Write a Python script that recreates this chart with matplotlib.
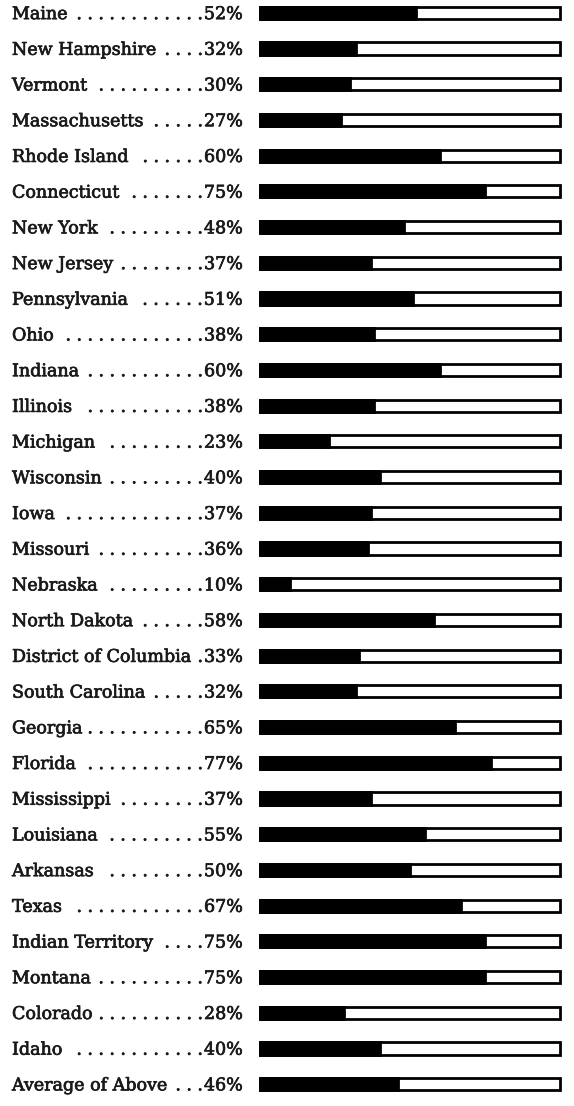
import matplotlib
matplotlib.use("Agg")
import matplotlib.pyplot as plt
import matplotlib.patheffects as pe
from matplotlib.transforms import blended_transform_factory, offset_copy

states = [
    "Maine", "New Hampshire", "Vermont", "Massachusetts", "Rhode Island",
    "Connecticut", "New York", "New Jersey", "Pennsylvania", "Ohio",
    "Indiana", "Illinois", "Michigan", "Wisconsin", "Iowa", "Missouri",
    "Nebraska", "North Dakota", "District of Columbia", "South Carolina",
    "Georgia", "Florida", "Mississippi", "Louisiana", "Arkansas", "Texas",
    "Indian Territory", "Montana", "Colorado", "Idaho", "Average of Above",
]
percents = [
    52, 32, 30, 27, 60, 75, 48, 37, 51, 38, 60, 38, 23, 40, 37, 36,
    10, 58, 33, 32, 65, 77, 37, 55, 50, 67, 75, 75, 28, 40, 46,
]

W, H, DPI = 574, 1106, 100
fig = plt.figure(figsize=(W / DPI, H / DPI), dpi=DPI)
fig.patch.set_facecolor("white")

n = len(states)
top_px, bottom_px = -5, 1102
ax = fig.add_axes([260 / W, 1 - bottom_px / H, 300 / W, (bottom_px - top_px) / H])
ax.set_xlim(0, 100)
ax.set_ylim(n - 0.5, -0.5)
ax.axis("off")

ys = list(range(n))
bar_h = 0.34
# white outlined full-length bar, then black filled share
ax.barh(ys, [100] * n, height=bar_h, color="white", edgecolor="black",
        linewidth=2.0, zorder=1, clip_on=False)
ax.barh(ys, percents, height=bar_h, color="black", edgecolor="black",
        linewidth=2.0, zorder=2, clip_on=False)

ink = [pe.withStroke(linewidth=0.5, foreground="#1a1a1a")]
font = dict(family="DejaVu Serif", fontsize=12.6, color="#1a1a1a",
            path_effects=ink)
base = blended_transform_factory(fig.transFigure, ax.transData)
# shift baseline so the capitals sit centred on each bar
trans = offset_copy(base, fig=fig, x=0, y=-4.5, units="points")
name_x = 12 / W
pct_x = 243 / W

fig.canvas.draw()
renderer = fig.canvas.get_renderer()

dot_step = 11  # pixels between leader dots
for y, name, p in zip(ys, states, percents):
    t_name = ax.text(name_x, y, name, transform=trans, ha="left",
                     va="baseline", **font)
    t_pct = ax.text(pct_x, y, f"{p}%", transform=trans, ha="right",
                    va="baseline", **font)
    e1 = t_name.get_window_extent(renderer)
    e2 = t_pct.get_window_extent(renderer)
    x = e2.x0 - 1
    while x - e1.x1 > 10:
        ax.text(x / W, y, ".", transform=trans, ha="right", va="baseline",
                **font)
        x -= dot_step

fig.savefig("out.png", dpi=DPI, facecolor="white")
